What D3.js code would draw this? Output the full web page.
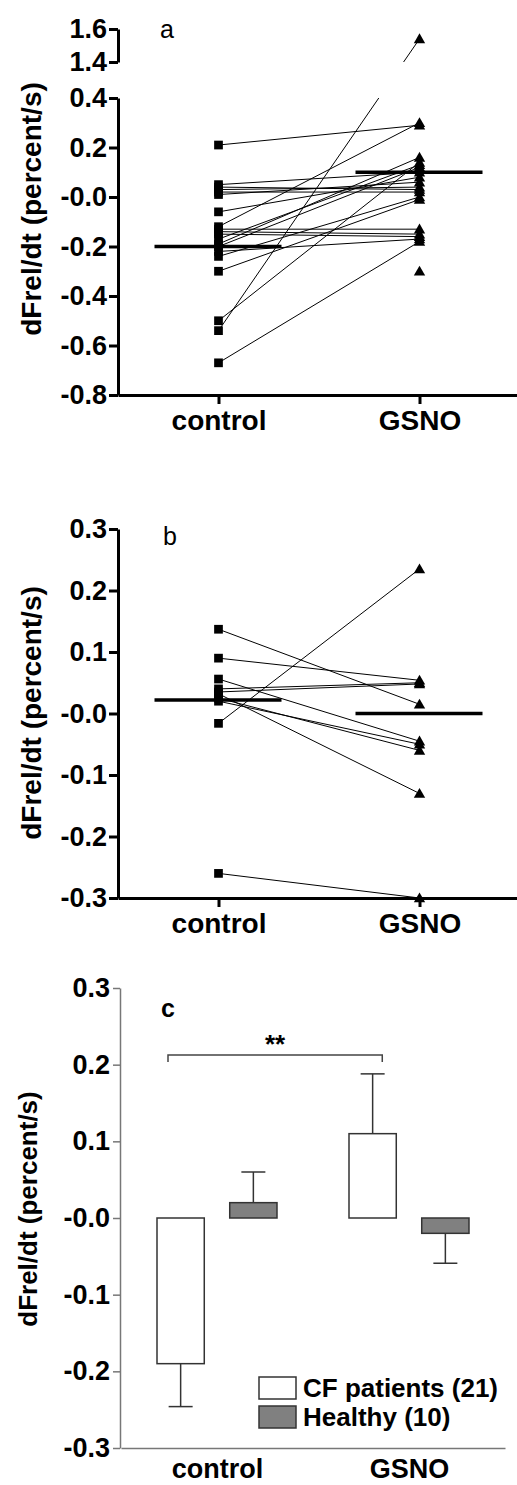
<!DOCTYPE html>
<html>
<head>
<meta charset="utf-8">
<script src="https://cdn.jsdelivr.net/npm/d3@7"></script>
<style>
  body { margin: 0; background: #fff; }
  svg { display: block; font-family: "Liberation Sans", Arial, sans-serif; }
</style>
</head>
<body>
<svg width="517" height="1485"></svg>
<script>
// x categories shared by all three panels
const groups = ["control", "GSNO"];

// panel a: CF patients, paired (control -> GSNO); null means no partner
const ctrlA = [0.21, 0.05, 0.04, 0.03, 0.02, 0.01, -0.06, -0.12, -0.13, -0.14, -0.15,
               -0.17, -0.19, -0.20, -0.22, -0.24, -0.30, -0.50, -0.54, -0.67, null];
const gsnoA = [0.29, 0.10, 0.03, 0.04, 0.02, 0.06, 0.08, 0.30, -0.13, -0.15, -0.16,
               0.13, 0.16, 0.12, -0.17, 0.00, -0.01, 0.14, 1.54, -0.18, -0.30];
const meanA = [-0.20, 0.10];
const ticksA = [-0.8, -0.6, -0.4, -0.2, 0, 0.2, 0.4];
const ticksAHigh = [1.4, 1.6];

// panel b: healthy subjects
const ctrlB = [0.137, 0.090, 0.056, 0.040, 0.032, 0.025, 0.020, 0.035, -0.016, -0.260];
const gsnoB = [0.015, 0.054, -0.045, 0.050, -0.130, -0.060, -0.050, 0.048, 0.235, -0.300];
const meanB = [0.022, 0.0];
const ticksB = [-0.3, -0.2, -0.1, 0, 0.1, 0.2, 0.3];

// panel c: mean + SEM
const series = ["CF patients (21)", "Healthy (10)"];
const cfMean = [-0.19, 0.11];
const cfSem = [0.056, 0.078];
const healthyMean = [0.02, -0.02];
const healthySem = [0.040, 0.039];
const ticksC = [-0.3, -0.2, -0.1, 0, 0.1, 0.2, 0.3];

const yTitle = "dFrel/dt (percent/s)";

// the original prints zero as "-0.0"
const fmt = d => (d <= 0 ? "-" : "") + Math.abs(d).toFixed(1);

let svg = d3.select("svg");

function styleAxis(g, width, color, size) {
  g.selectAll("path, line").attr("stroke", color).attr("stroke-width", width);
  g.selectAll("text").attr("fill", "#000").attr("font-size", size).attr("font-weight", "bold")
    .attr("font-family", "'Liberation Sans', Arial, sans-serif");
}

function scatterPanel(o) {
  let x = d3.scalePoint().domain(groups).range([118, 520]).padding(0.5);
  let y = o.y;
  let g = svg.append("g");

  // clip for the broken axis gap
  let clipId = "clip-" + o.letter;
  let clip = g.append("clipPath").attr("id", clipId);
  o.clipRects.forEach(r => clip.append("rect").attr("x", 0).attr("width", 517)
    .attr("y", r[0]).attr("height", r[1] - r[0]));

  // paired lines
  let pairs = o.ctrl.map((c, i) => [c, o.gsno[i]]).filter(p => p[0] !== null && p[1] !== null);
  g.append("g").attr("clip-path", `url(#${clipId})`)
    .selectAll("line").data(pairs).join("line")
    .attr("x1", x("control")).attr("y1", d => y(d[0]))
    .attr("x2", x("GSNO")).attr("y2", d => y(d[1]))
    .attr("stroke", "#000").attr("stroke-width", 1);

  // mean bars
  g.selectAll(".mean").data(o.mean).join("line")
    .attr("x1", (d, i) => x(groups[i]) - 64).attr("x2", (d, i) => x(groups[i]) + 63)
    .attr("y1", d => y(d)).attr("y2", d => y(d))
    .attr("stroke", "#000").attr("stroke-width", 3.5);

  // symbols
  let sq = d3.symbol().type(d3.symbolSquare).size(76);
  let tri = d3.symbol().type(d3.symbolTriangle).size(56);
  g.selectAll(".sq").data(o.ctrl.filter(v => v !== null)).join("path")
    .attr("d", sq).attr("transform", d => `translate(${x("control")},${y(d)})`);
  g.selectAll(".tri").data(o.gsno.filter(v => v !== null)).join("path")
    .attr("d", tri).attr("transform", d => `translate(${x("GSNO")},${y(d) + 1})`);

  // y axis segments
  o.segments.forEach(s => {
    let ys = d3.scaleLinear().domain(s.domain).range(s.domain.map(y));
    g.append("g").attr("transform", "translate(118,0)")
      .call(d3.axisLeft(ys).tickValues(s.ticks).tickFormat(fmt).tickSize(9).tickSizeOuter(0).tickPadding(2))
      .call(a => styleAxis(a, 3, "#000", 27));
  });

  // x axis
  g.append("g").attr("transform", `translate(0,${o.y.range()[0]})`)
    .call(d3.axisBottom(x).tickSize(9).tickSizeOuter(0).tickPadding(6))
    .call(a => styleAxis(a, 3, "#000", 28));

  // titles
  g.append("text").attr("transform", `translate(41,${o.titleY}) rotate(-90)`)
    .attr("text-anchor", "middle").attr("font-size", 28).attr("font-weight", "bold").text(yTitle);
  g.append("text").attr("x", o.letterX).attr("y", o.letterY)
    .attr("font-size", 25).text(o.letter);
}

// panel a, broken axis: lower part -0.8..0.4, upper part 1.4..1.6
let yA = d3.scaleLinear().domain([-0.8, 0.4, 1.4, 1.6]).range([395, 98, 62, 29]);
scatterPanel({
  letter: "a", letterX: 160, letterY: 38, titleY: 209,
  ctrl: ctrlA, gsno: gsnoA, mean: meanA, y: yA,
  clipRects: [[0, 62], [98, 480]],
  segments: [{ domain: [-0.8, 0.4], ticks: ticksA }, { domain: [1.4, 1.6], ticks: ticksAHigh }]
});

// panel b
let yB = d3.scaleLinear().domain([-0.3, 0.3]).range([898, 529]);
scatterPanel({
  letter: "b", letterX: 163, letterY: 545, titleY: 713,
  ctrl: ctrlB, gsno: gsnoB, mean: meanB, y: yB,
  clipRects: [[480, 960]],
  segments: [{ domain: [-0.3, 0.3], ticks: ticksB }]
});

// panel c: grouped bars
let xC = d3.scalePoint().domain(groups).range([121, 505]).padding(0.5);
let xSub = d3.scaleBand().domain(series).range([-60, 60]).paddingInner(0.35);
let yC = d3.scaleLinear().domain([-0.3, 0.3]).range([1448, 988]);
let colors = { [series[0]]: "#ffffff", [series[1]]: "#808080" };

let barData = [];
groups.forEach((grp, i) => {
  barData.push({ grp, s: series[0], v: cfMean[i], e: cfSem[i] });
  barData.push({ grp, s: series[1], v: healthyMean[i], e: healthySem[i] });
});

let gc = svg.append("g");
let cx = d => xC(d.grp) + xSub(d.s) + xSub.bandwidth() / 2;

// error bars (one-sided, away from zero)
let tipY = d => yC(d.v + Math.sign(d.v) * d.e);
gc.selectAll(".err").data(barData).join("line")
  .attr("x1", cx).attr("x2", cx).attr("y1", d => yC(d.v)).attr("y2", tipY)
  .attr("stroke", "#333").attr("stroke-width", 1.5);
gc.selectAll(".cap").data(barData).join("line")
  .attr("x1", d => cx(d) - 12).attr("x2", d => cx(d) + 12).attr("y1", tipY).attr("y2", tipY)
  .attr("stroke", "#333").attr("stroke-width", 1.5);

gc.selectAll(".bar").data(barData).join("rect")
  .attr("x", d => xC(d.grp) + xSub(d.s)).attr("width", xSub.bandwidth())
  .attr("y", d => yC(Math.max(0, d.v))).attr("height", d => Math.abs(yC(d.v) - yC(0)))
  .attr("fill", d => colors[d.s]).attr("stroke", "#333").attr("stroke-width", 1.5);

gc.append("g").attr("transform", "translate(120,0)")
  .call(d3.axisLeft(yC).tickValues(ticksC).tickFormat(fmt).tickSize(7).tickSizeOuter(0).tickPadding(3))
  .call(a => styleAxis(a, 1.5, "#777", 27));
gc.append("g").attr("transform", "translate(0,1448)")
  .call(d3.axisBottom(xC).tickSize(0).tickSizeOuter(0).tickPadding(11))
  .call(a => styleAxis(a, 1.5, "#777", 27));

gc.append("text").attr("transform", "translate(37,1209) rotate(-90)")
  .attr("text-anchor", "middle").attr("font-size", 26).attr("font-weight", "bold").text(yTitle);
gc.append("text").attr("x", 161).attr("y", 1017).attr("font-size", 25).attr("font-weight", "bold").text("c");

// significance bracket CF control vs CF GSNO
let bx1 = xC("control") + xSub(series[0]) + 11;
let bx2 = xC("GSNO") + xSub(series[0]) + xSub.bandwidth() - 14;
gc.append("path")
  .attr("d", `M${bx1},1062V1055H${bx2}V1062`)
  .attr("fill", "none").attr("stroke", "#444").attr("stroke-width", 1.5);
gc.append("text").attr("x", (bx1 + bx2) / 2).attr("y", 1053).attr("text-anchor", "middle")
  .attr("font-size", 26).attr("font-weight", "bold").text("**");

// legend
let legend = gc.append("g").attr("transform", "translate(259,1377)");
series.forEach((s, i) => {
  let item = legend.append("g").attr("transform", `translate(0,${i * 29})`);
  item.append("rect").attr("width", 37).attr("height", 22)
    .attr("fill", colors[s]).attr("stroke", "#333").attr("stroke-width", 1.5);
  item.append("text").attr("x", 44).attr("y", 20).attr("font-size", 26).attr("font-weight", "bold").text(s);
});
</script>
</body>
</html>
